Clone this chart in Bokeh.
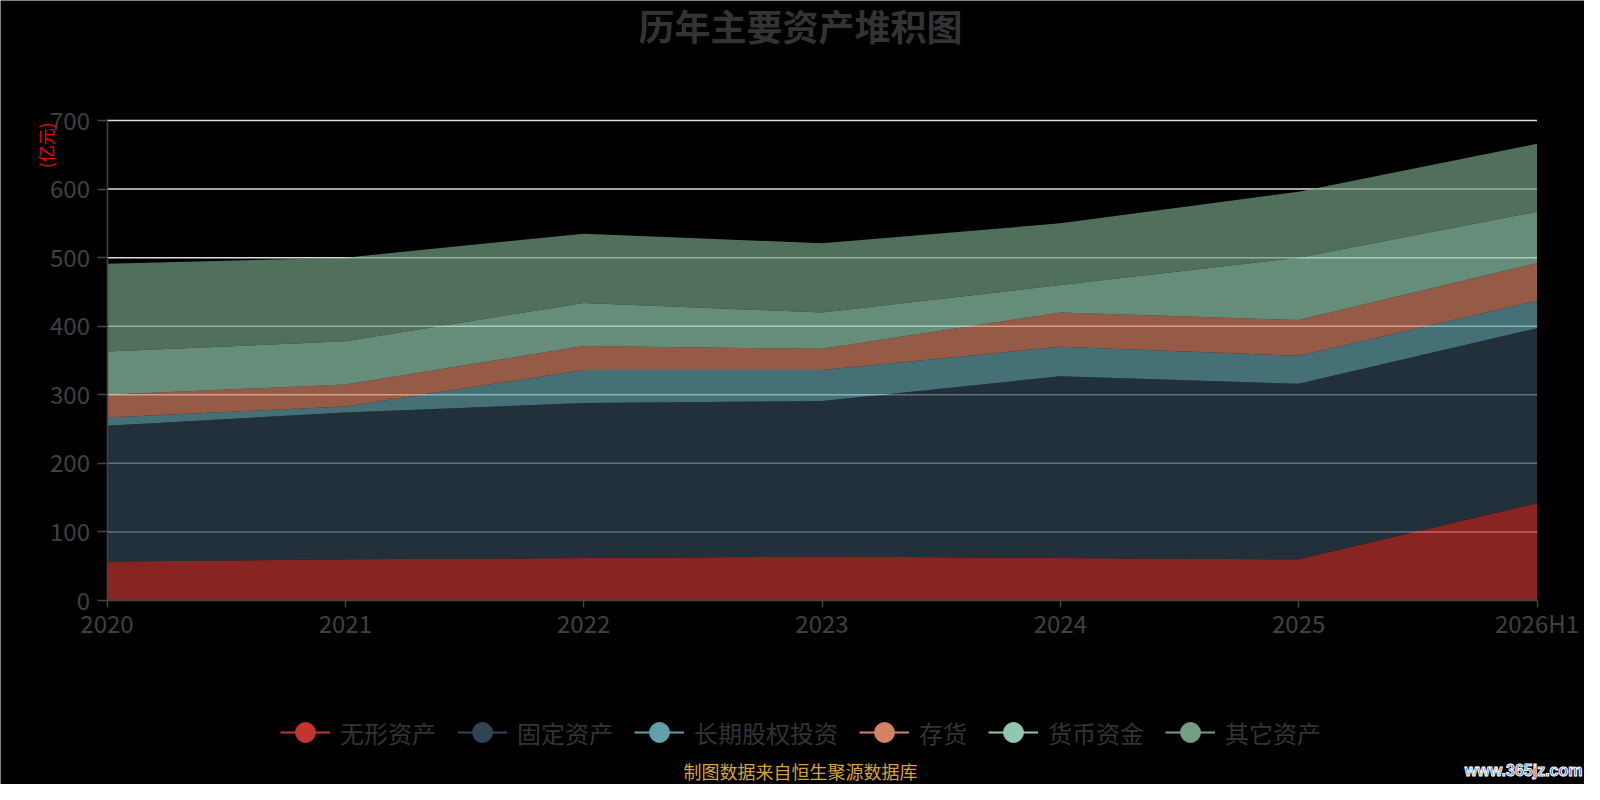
import numpy as np
from bokeh.plotting import figure
from bokeh.models import ColumnDataSource, Range1d, FixedTicker, Legend, LegendItem, Label
from bokeh.embed import file_html
from bokeh.resources import INLINE

# ---- data (亿元) ----
years = ["2020", "2021", "2022", "2023", "2024", "2025", "2026H1"]
series_names = ["无形资产", "固定资产", "长期股权投资", "存货", "货币资金", "其它资产"]
intangible = [57, 60, 62, 64, 62, 60, 142]
fixed_assets = [198, 214, 226, 227, 265, 256, 255]
equity_invest = [12, 9, 48, 45, 43, 41, 40]
inventory = [33, 32, 35, 31, 50, 52, 55]
cash = [63, 63, 63, 53, 40, 91, 75]
other_assets = [128, 122, 101, 101, 90, 96, 99]
y_ticks = [0, 100, 200, 300, 400, 500, 600, 700]

colors = ["#c23531", "#2f4554", "#61a0a8", "#d48265", "#91c7ae", "#749f83"]
FONT = "Noto Sans CJK SC"

# ---- layout (canvas pixels) ----
W, H = 1584, 784
PL, PR, PT, PB = 106.5, 1536.5, 120.0, 600.0   # plotting area edges
n = len(years)
xmin, xmax = 0, n - 1
ymin, ymax = y_ticks[0], y_ticks[-1]
kx = (PR - PL) / (xmax - xmin)
ky = (PB - PT) / (ymax - ymin)
x_range = Range1d(xmin - PL / kx, xmax + (W - PR) / kx)
y_range = Range1d(ymin - (H - PB) / ky, ymax + PT / ky)

values = [intangible, fixed_assets, equity_invest, inventory, cash, other_assets]
data = {"x": list(range(n))}
for name, vals in zip(series_names, values):
    data[name] = vals
source = ColumnDataSource(data)

p = figure(width=W, height=H, output_backend="svg", toolbar_location=None,
           x_range=x_range, y_range=y_range,
           min_border=0, background_fill_color="black", border_fill_color="black",
           outline_line_color=None)
p.xgrid.visible = False
p.ygrid.visible = False

# horizontal split lines (from tick values)
gsrc = ColumnDataSource(dict(y=y_ticks[1:], x0=[xmin] * (len(y_ticks) - 1),
                             x1=[xmax] * (len(y_ticks) - 1)))
p.segment(x0="x0", x1="x1", y0="y", y1="y", source=gsrc, line_color="#dddddd", line_width=1.5)

p.varea_stack(stackers=series_names, x="x", color=colors, fill_alpha=0.7, source=source)

# axes
axis_col = "#444444"
lab_col = "#404040"
p.yaxis.ticker = FixedTicker(ticks=y_ticks)
p.xaxis.ticker = FixedTicker(ticks=list(range(n)))
p.xaxis.major_label_overrides = {i: y for i, y in enumerate(years)}
p.xaxis.fixed_location = ymin
p.yaxis.fixed_location = xmin
p.xaxis.bounds = (xmin, xmax)
p.yaxis.bounds = (ymin, ymax)
for ax in (p.xaxis, p.yaxis):
    ax.axis_line_color = axis_col
    ax.axis_line_width = 1.5
    ax.major_tick_line_color = axis_col
    ax.major_tick_line_width = 1.5
    ax.major_tick_in = 0
    ax.minor_tick_line_color = None
    ax.major_label_text_font = FONT
    ax.major_label_text_font_size = "24px"
    ax.major_label_text_color = lab_col
p.yaxis.major_tick_out = 10
p.yaxis.major_label_standoff = 7
p.xaxis.major_tick_out = 7
p.xaxis.major_label_standoff = -3

# legend proxies (one invisible NaN point each so the legend draws the icons)
items = []
for name, c in zip(series_names, colors):
    psrc = ColumnDataSource(dict(x=np.array([np.nan]), y=np.array([np.nan])))
    lr = p.line(x="x", y="y", source=psrc, line_color=c, line_width=2)
    sr = p.scatter(x="x", y="y", source=psrc, fill_color=c, line_color=c, size=20)
    items.append(LegendItem(label=name, renderers=[lr, sr]))
legend = Legend(items=items, orientation="horizontal", location=(280, H - 758),
                background_fill_alpha=0, border_line_color=None, padding=0, margin=0,
                spacing=21, glyph_width=50, glyph_height=52, label_height=52,
                label_standoff=10, label_text_font=FONT, label_text_font_size="24px",
                label_text_color="#333333")
p.add_layout(legend)

# texts (screen units from bottom-left of canvas)
p.add_layout(Label(x=800, y=H - 24, x_units="screen", y_units="screen", text="历年主要资产堆积图",
                   text_align="center", text_baseline="middle", text_font=FONT,
                   text_font_size="36px", text_font_style="bold", text_color="#333333"))
p.add_layout(Label(x=45, y=H - 122, x_units="screen", y_units="screen", text="(亿元)",
                   angle=np.pi / 2, text_align="right", text_baseline="middle", text_font=FONT,
                   text_font_size="17px", text_color="#ff0000"))
p.add_layout(Label(x=800, y=H - 770, x_units="screen", y_units="screen", text="制图数据来自恒生聚源数据库",
                   text_align="center", text_baseline="middle", text_font=FONT,
                   text_font_size="18px", text_color="#d9a33c"))
p.add_layout(Label(x=1582, y=H - 770, x_units="screen", y_units="screen", text="www.365jz.com",
                   text_align="right", text_baseline="middle", text_font="Liberation Sans",
                   text_font_size="16px", text_font_style="bold", text_color="#3a64b0",
                   text_outline_color="#ffffff"))

html = file_html(p, INLINE)
html = html.replace("<body>", '<body style="background-color:#000000;">', 1)
open("out.html", "w").write(html)
